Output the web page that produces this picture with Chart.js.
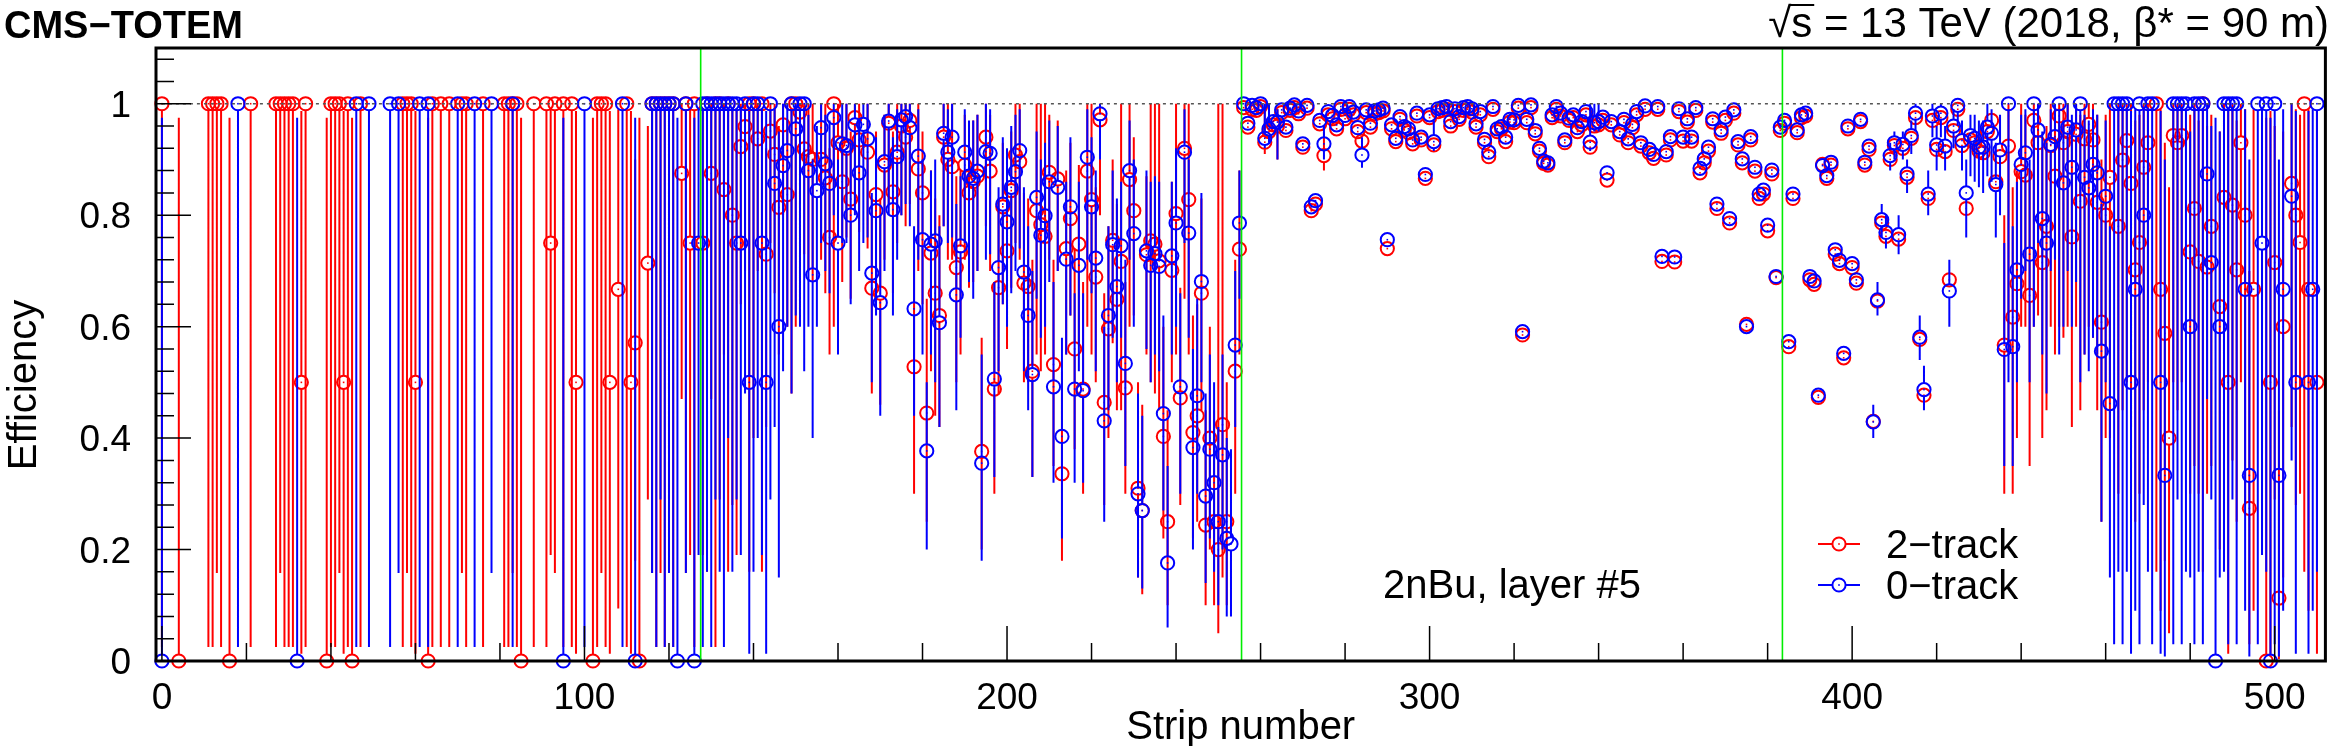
<!DOCTYPE html>
<html>
<head>
<meta charset="utf-8">
<script src="https://cdn.jsdelivr.net/npm/chart.js@4.4.1/dist/chart.umd.min.js"></script>
<style>
  html, body { margin: 0; padding: 0; background: #fff; }
  #wrap { width: 2334px; height: 746px; }
</style>
</head>
<body>
<div id="wrap"><canvas id="effChart" width="2334" height="746"></canvas></div>
<script>
// [strip, efficiency, lower end of error bar, upper end of error bar]
// points without the last two entries have error bars hidden inside the marker
const redChip1 = [
  [0,1,.025,1],[4,0,0,.975],[11,1,.025,1],[12,1,.025,1],[13,1,.158,1],[14,1,.025,1],[16,0,0,.975],[21,1,.025,1],
  [27,1,.025,1],[28,1,.158,1],[29,1,.025,1],[30,1,.025,1],[31,1,.025,1],[33,.5,.013,.987],[34,1,.025,1],[39,0,0,.975],
  [40,1,.025,1],[41,1,.025,1],[42,1,.158,1],[43,.5,.013,.987],[44,1,.025,1],[45,0,0,.975],[47,1,.025,1],[57,1,.025,1],
  [58,1,.158,1],[59,1,.025,1],[60,.5,.013,.987],[63,0,0,.975],[64,1,.025,1],[66,1,.025,1],[68,1,.025,1],[71,1,.158,1],
  [72,1,.025,1],[76,1,.025,1],[81,1,.025,1],[82,1,.025,1],[83,1,.158,1],[84,1,.025,1],[85,0,0,.975],[88,1,.025,1],
  [91,1,.025,1],[92,.75,.19,.99],[93,1,.158,1],[95,1,.025,1],[97,1,.025,1],[98,.5,.013,.987],[102,0,0,.975],[103,1,.025,1],
  [104,1,.158,1],[105,1,.025,1],[106,.5,.013,.987],[108,.667,.094,.99],[110,1,.025,1],[111,.5,.013,.987],[112,.571,.18,.9],
  [113,0,0,.975],[115,.714,.29,.96],[116,1,.158,1],[117,1,.025,1],[118,1,.158,1],[119,1,.025,1],[120,1,.29,1],[121,1,.025,1],
  [123,.875,.47,1],[124,1,.158,1],[125,.75,.19,.99],[126,1,.025,1]
];
const blueChip1 = [
  [0,0,0,.975],[18,1,.025,1],[32,0,0,.975],[46,1,.025,1],[49,1,.025,1],[54,1,.025,1],[56,1,.158,1],[61,1,.025,1],
  [63,1,.025,1],[70,1,.025,1],[74,1,.025,1],[78,1,.158,1],[83,1,.025,1],[95,0,0,.975],[100,1,.025,1],[109,1,.025,1],
  [112,0,0,.975],[116,1,.158,1],[117,1,.025,1],[118,1,.29,1],[119,1,.025,1],[120,1,.158,1],[121,1,.025,1],[122,0,0,.975],
  [124,1,.158,1],[126,0,0,.975],[127,.75,.19,.99]
];
const redChip2 = [
  [128,.75,.19,.99],[129,1,.16,1],[130,.875,.47,1],[131,1,.025,1],[132,1,.29,1],[133,.846,.55,1],[134,1,.16,1],[135,.8,.28,.99],
  [136,.75,.19,.99],[137,.923,.64,1],[138,.959,.7,1],[139,1,.16,1],[140,1,.4,1],[141,.937,.7,1],[142,1,.16,1],[143,.73,.42,.92],
  [144,.951,.75,1],[145,.909,.66,1],[146,.814,.55,.96],[147,.962,.8,1],[148,.837,.6,.97],[149,1,.48,1],[150,1,.6,1],[151,.985,.82,1],
  [152,.919,.73,1],[153,.905,.7,1],[154,.9,.68,1],[156,.9,.72,1],[157,.867,.66,1],[158,.76,.55,.92],[159,1,.6,1],[160,.93,.76,1],
  [161,.86,.68,.97],[162,.92,.76,1],[163,.829,.65,.95],[164,.975,.82,1],[165,.935,.77,1],[167,.913,.74,1],[168,.669,.48,.83],[169,.837,.66,.95],
  [170,.66,.46,.83],[171,.89,.72,.98],[172,.965,.82,1],[173,.842,.66,.95],[174,.913,.75,1],[175,.96,.8,1],[176,.94,.78,1],[177,.97,.82,1],
  [178,.528,.3,.72],[179,.883,.7,1],[180,.84,.64,.95],[181,.445,.25,.65],[182,.732,.52,.88],[183,.66,.44,.83],[184,.62,.42,.8],[185,.94,.78,1],
  [186,.9,.72,1],[187,.887,.72,1],[188,.706,.5,.87],[189,.734,.55,.88],[190,.89,.72,.98],[191,.84,.67,.95],[192,.86,.68,.97],[193,.87,.7,.98],
  [194,.376,.2,.58],[195,.94,.78,1],[196,.879,.7,.98],[197,.488,.3,.68],[198,.67,.48,.83],[199,.815,.64,.93],[200,.736,.56,.88],[201,.844,.67,.95],
  [202,.908,.75,1],[203,.896,.72,1],[204,.678,.5,.84],[205,.672,.5,.83],[206,.52,.33,.72],[207,.808,.55,1],[208,.783,.52,1],[209,.762,.55,1],
  [210,.877,.72,.98],[211,.532,.35,.72],[212,.865,.7,.97],[213,.336,.18,.52],[214,.74,.55,.88],[215,.794,.62,.93],[216,.56,.38,.74],[217,.748,.57,.89],
  [218,.488,.3,.68],[219,.879,.6,1],[220,.828,.55,1],[221,.689,.5,.85],[222,.971,.8,1],[223,.464,.28,.66],[224,.596,.4,.78],[225,.755,.57,.9],
  [226,.649,.45,.82],[227,.717,.45,1],[228,.49,.3,.68],[229,.864,.6,1],[230,.808,.62,.94],[231,.31,.15,.5],[232,.27,.12,.46],[233,.729,.55,.87],
  [234,.754,.5,1],[235,.748,.48,1],[236,.718,.45,1],[237,.403,.22,.6],[238,.25,.1,.45],[239,.701,.5,.86],[240,.803,.55,1],[241,.472,.28,.67],
  [242,.92,.65,1],[243,.828,.55,1],[244,.41,.22,.62],[245,.44,.25,.64],[246,.66,.45,.83],[247,.244,.1,.45],[248,.4,.2,.6],[249,.25,.1,.45],
  [250,.2,.05,1],[251,.424,.15,1],[252,.25,.1,.5],[254,.52,.3,.72],[255,.739,.55,.88]
];
const blueChip2 = [
  [128,1,.025,1],[129,1,.16,1],[130,1,.025,1],[131,1,.29,1],[132,1,.16,1],[133,1,.025,1],[134,1,.4,1],[135,1,.16,1],
  [136,1,.29,1],[137,.75,.19,.99],[138,1,.48,1],[139,.5,.013,.987],[140,1,.16,1],[141,1,.4,1],[142,.75,.19,.99],[143,.5,.013,.987],
  [144,1,.29,1],[145,.857,.42,.99],[146,.6,.15,.95],[147,.889,.52,1],[148,.916,.6,1],[149,1,.48,1],[150,.955,.62,1],[151,1,.6,1],
  [152,1,.52,1],[153,.88,.6,.98],[154,.693,.4,.9],[155,.844,.6,.96],[156,.957,.75,1],[157,.892,.7,.98],[158,.857,.66,.97],[159,.975,.8,1],
  [160,.75,.55,.9],[161,.928,.75,1],[162,.925,.75,1],[163,.8,.64,.93],[164,.962,.8,1],[165,.876,.7,.97],[166,.963,.75,1],[167,.937,.76,1],
  [168,.696,.5,.84],[169,.808,.62,.94],[170,.643,.44,.8],[171,.896,.7,.98],[172,.969,.8,1],[173,.81,.62,.94],[174,.905,.72,.99],[175,.971,.8,1],
  [176,.977,.82,1],[177,.957,.78,1],[178,.632,.44,.78],[179,.906,.72,.99],[180,.756,.55,.9],[181,.377,.2,.5],[182,.748,.55,.88],[183,.754,.5,.9],
  [184,.607,.42,.78],[185,.947,.78,1],[186,.913,.75,.99],[187,.94,.76,1],[188,.657,.45,.82],[189,.745,.58,.87],[190,.913,.75,.99],[191,.87,.68,.97],
  [192,.866,.65,.97],[193,.879,.7,.98],[194,.355,.18,.55],[195,.914,.72,1],[196,.911,.73,.99],[197,.506,.33,.68],[198,.706,.52,.85],[199,.82,.64,.94],
  [200,.788,.6,.92],[201,.85,.66,.96],[202,.878,.7,.98],[203,.916,.74,.99],[204,.698,.52,.85],[205,.62,.45,.78],[206,.514,.33,.7],[207,.832,.65,.95],
  [208,.764,.58,.9],[209,.799,.6,.93],[210,.86,.68,.97],[211,.492,.32,.68],[212,.85,.7,.96],[213,.403,.22,.58],[214,.721,.55,.86],[215,.815,.62,.94],
  [216,.488,.32,.66],[217,.71,.52,.86],[218,.485,.32,.66],[219,.904,.72,.99],[220,.815,.66,.94],[221,.723,.52,.88],[222,.982,.9,1],[223,.431,.25,.6],
  [224,.62,.45,.78],[225,.747,.58,.88],[226,.672,.5,.83],[227,.745,.58,.86],[228,.534,.35,.72],[229,.88,.72,.97],[230,.767,.6,.9],[231,.3,.15,.48],
  [232,.27,.13,.44],[233,.736,.56,.88],[234,.71,.5,.86],[235,.731,.55,.87],[236,.708,.52,.86],[237,.444,.27,.62],[238,.176,.06,.35],[239,.727,.55,.86],
  [240,.786,.6,.92],[241,.492,.3,.66],[242,.913,.75,.99],[243,.768,.58,.9],[244,.383,.2,.56],[245,.476,.3,.65],[246,.681,.5,.84],[247,.296,.14,.48],
  [248,.38,.22,.55],[249,.32,.16,.5],[250,.25,.1,.42],[251,.37,.2,.55],[252,.22,.08,.4],[253,.21,.08,.38],[254,.567,.42,.7],[255,.786,.65,.88]
];
const redChip3 = [
  [256,.993],[257,.958],[258,.99],[259,.988],[260,.995],[261,.931,.91,1],[262,.95,.93,1],[263,.962],[264,.96,.9,.99],[265,.984],[266,.952],
  [267,.988],[268,.993],[269,.982],[270,.922],[271,.992],[272,.808],[273,.82],[274,.964],[275,.907,.88,.95],[276,.98],[277,.973],[278,.955],
  [279,.99],[280,.973],[281,.99],[282,.98],[283,.95],[284,.933],[285,.984],[286,.958],[287,.982],[288,.984],[289,.987],[290,.74],[291,.955],
  [292,.932],[293,.972],[294,.953],[295,.948],[296,.928],[297,.978],[298,.935],[299,.866],[300,.975],[301,.926],[302,.986],[303,.988],[304,.99],
  [305,.96],[306,.986],[307,.972],[308,.988],[309,.99],[310,.985],[311,.958],[312,.98],[313,.93],[314,.905],[315,.99],[316,.95],[317,.955],
  [318,.932],[319,.967],[320,.966],[321,.992],[322,.585],[323,.966],[324,.993],[325,.946],[326,.915],[327,.893],[328,.89],[329,.975],[330,.99],
  [331,.978],[332,.93],[333,.97],[334,.975],[335,.95],[336,.962],[337,.98],[338,.922],[339,.96],[340,.962],[341,.97],[342,.863],[343,.962],
  [345,.944],[346,.966],[347,.93],[348,.957],[349,.98],[350,.924],[351,.99],[352,.912],[353,.902],[354,.99],[355,.717],[356,.908],[357,.935],
  [358,.716],[359,.986],[360,.933],[361,.967],[362,.933],[363,.988],[364,.876],[365,.894],[366,.915],[367,.967],[368,.812],[369,.947],[370,.97],
  [371,.786],[372,.983],[373,.926],[374,.894],[375,.604],[376,.935],[377,.879],[378,.83],[379,.838],[380,.772],[381,.874],[382,.688],[383,.952]
];
const blueChip3 = [
  [256,1],[257,.965],[258,.997],[259,.993],[260,1],[261,.938,.92,1],[262,.955,.93,1],[263,.968],[264,.967,.9,.99],[265,.989],[266,.958],
  [267,.992],[268,.998],[269,.987],[270,.928],[271,.997],[272,.815],[273,.826],[274,.97],[275,.928,.9,.96],[276,.986],[277,.979],[278,.962],
  [279,.995],[280,.979],[281,.995],[282,.985],[283,.957],[284,.908,.885,.94],[285,.989],[286,.965],[287,.987],[288,.989],[289,.992],[290,.756],[291,.962],
  [292,.938],[293,.977],[294,.959],[295,.955],[296,.935],[297,.983],[298,.94],[299,.873],[300,.98],[301,.932,.915,.97],[302,.991],[303,.993],[304,.995],
  [305,.968],[306,.991],[307,.977],[308,.993],[309,.995],[310,.991],[311,.964],[312,.986],[313,.936],[314,.913],[315,.995],[316,.955],[317,.959],
  [318,.94],[319,.972],[320,.971],[321,.997],[322,.591],[323,.972],[324,.998],[325,.952],[326,.92],[327,.897],[328,.894],[329,.98],[330,.995],
  [331,.983],[332,.935],[333,.974],[334,.98],[335,.957],[336,.968],[337,.986],[338,.931,.915,1],[339,.966,.95,1],[340,.968,.95,1],[341,.976],[342,.876],[343,.968],
  [345,.95],[346,.972],[347,.937],[348,.963],[349,.986],[350,.93],[351,.996],[352,.918],[353,.909],[354,.995],[355,.726],[356,.914],[357,.941],
  [358,.725],[359,.991],[360,.94],[361,.973],[362,.94],[363,.993],[364,.884],[365,.901],[366,.922],[367,.973],[368,.82],[369,.953],[370,.976],
  [371,.794],[372,.989],[373,.932],[374,.901],[375,.6],[376,.941],[377,.886],[378,.838],[379,.845],[380,.782],[381,.881],[382,.69],[383,.958]
];
const redChip4 = [
  [384,.965],[385,.564],[386,.83],[387,.948],[388,.975],[389,.978],[390,.684],[391,.676],[392,.473],[393,.891],[394,.866],[395,.89],
  [396,.73],[397,.713],[398,.544],[399,.955],[400,.706],[401,.678],[402,.968],[403,.89],[404,.918],[405,.43],[406,.646],[407,.786],
  [408,.762],[409,.9],[410,.925],[411,.757],[412,.92],[413,.868],[414,.938],[415,.975],[416,.577],[417,.477],[418,.83],[419,.97],
  [420,.918],[421,.975],[422,.914],[423,.684],[424,.952],[425,.99],[426,.925],[427,.812],[428,.935],[429,.93],[430,.915],[431,.912],
  [432,.95],[433,.97],[434,.86],[435,.905],[436,.567,.3,.8],[437,.924,.55,1],[438,.617,.3,.85],[439,.677,.4,.88],[440,.878,.6,1],[441,.872,.6,.98],
  [442,.656,.35,.88],[443,.97,.6,1],[444,.93,.62,1],[445,.715,.4,.92],[446,.78,.45,.96],[447,.925,.6,1],[448,.87,.55,.99],[449,.978,.6,1],
  [450,.93,.58,1],[451,.95,.6,1],[452,.761,.42,.95],[453,.945,.6,1],[454,.825,.45,.98],[455,.937,.55,1],[456,.963,.6,1],[457,.935,.58,1],
  [458,.823,.45,.98],[459,.608,.25,.9],[460,.8,.4,.98],[461,.868,.4,1],[463,.78,.3,1],[464,.899,.45,1],[465,.934,.5,1],[466,.857,.42,1],
  [467,.702,.25,.97],[468,.751,.3,.98],[469,.886,.45,1],[470,.93,.5,1],[472,1,.16,1],[473,.667,.09,.99],[474,.588,.18,.93],[475,.4,.05,.85],
  [476,.943,.5,1],[477,.93,.45,1],[478,.943,.5,1],[480,.734,.3,.98],[481,.812,.35,1],[482,.717,.3,.97],[483,1,.16,1],[484,.707,.3,.96],
  [485,.78,.35,.98],[487,.636,.2,.95],[488,.832,.38,1],[489,.5,.013,.987],[490,.818,.36,1],[491,.702,.25,.97],[492,.93,.5,1],[493,.8,.28,.99],
  [494,.274,.03,.7],[495,.667,.09,.99],[498,0,0,.975],[499,.5,.013,.987],[500,.715,.29,.96],[501,.113,.003,.45],[502,.6,.15,.95],[504,.857,.42,1],
  [505,.8,.28,.99],[506,.751,.3,.98],[507,1,.16,1],[508,.667,.09,.99],[510,.5,.013,.987]
];
const blueChip4 = [
  [384,.97],[385,.573],[386,.838],[387,.953],[388,.98],[389,.983],[390,.69],[391,.682],[392,.477],[393,.889],[394,.871],[395,.895],
  [396,.738],[397,.719],[398,.552],[399,.96],[400,.713],[401,.684],[402,.972],[403,.895],[404,.924],[405,.429,.4,.46],[406,.648,.62,.68],[407,.792,.76,.82],
  [408,.769,.74,.8],[409,.907,.88,.93],[410,.93,.9,.95],[411,.765,.73,.8],[412,.927,.9,.95],[413,.874,.84,.9],[414,.943,.91,.97],[415,.983,.95,1],
  [416,.581,.54,.62],[417,.487,.45,.53],[418,.838,.8,.88],[419,.978,.94,1],[420,.926,.88,.96],[421,.983,.94,1],[422,.924,.88,.96],[423,.664,.6,.72],
  [424,.96,.92,.99],[425,.997,.96,1],[426,.934,.88,.97],[427,.84,.76,.9],[428,.943,.87,.98],[429,.938,.86,.98],[430,.922,.85,.97],[431,.922,.84,.97],
  [432,.958,.87,1],[433,.947,.86,.99],[434,.855,.76,.93],[435,.917,.8,.98],[436,.559,.35,.75],[437,1,.5,1],[438,.564,.35,.78],[439,.702,.5,.86],
  [440,.891,.65,.98],[441,.912,.7,.99],[442,.73,.5,.9],[443,1,.6,1],[444,.953,.75,1],[445,.794,.55,.95],[446,.75,.48,.93],[447,.927,.7,.99],
  [448,.941,.72,1],[449,1,.55,1],[450,.858,.6,.97],[451,.958,.7,1],[452,.886,.6,.98],[453,.953,.68,1],[454,1,.5,1],[455,.868,.55,.98],
  [456,.849,.52,.97],[457,.891,.58,.99],[458,.876,.55,.98],[459,.556,.25,.82],[460,.834,.5,.97],[461,.462,.15,.78],[462,1,.03,1],[463,1,.16,1],
  [464,1,.03,1],[465,1,.16,1],[466,.5,.013,.987],[467,.667,.09,.99],[468,1,.03,1],[469,.8,.28,.99],[470,1,.16,1],[471,1,.03,1],
  [473,.5,.013,.987],[474,.333,.008,.9],[476,1,.03,1],[477,1,.29,1],[478,1,.03,1],[479,1,.16,1],[480,.6,.15,.95],[481,1,.03,1],
  [482,1,.16,1],[483,1,.03,1],[484,.874,.47,1],[485,.715,.29,.96],[486,0,0,.975],[487,.6,.15,.95],[488,1,.16,1],[489,1,.03,1],
  [490,1,.29,1],[491,1,.03,1],[493,.667,.09,.99],[494,.333,.008,.9],[496,1,.03,1],[497,.75,.19,.99],[498,1,.16,1],[499,0,0,.975],
  [500,1,.03,1],[501,.333,.008,.9],[502,.667,.09,.99],[504,.834,.36,1],[505,.5,.013,.987],[508,.5,.013,.987],[509,.667,.09,.99],[510,1,.16,1]
];

const xMajorTicks = [0, 100, 200, 300, 400, 500];
const yMajorTicks = [0, 0.2, 0.4, 0.6, 0.8, 1];
const chipEdges = [127.5, 255.5, 383.5];
const legendItems = [
  { label: '2\u2212track', color: '#ff0000' },
  { label: '0\u2212track', color: '#0000ff' }
];
const headerLeft = 'CMS\u2212TOTEM';
const headerRight = 's = 13 TeV (2018, \u03b2* = 90 m)';
const planeLabel = '2nBu, layer #5';

const FONT = '"Liberation Sans", Arial, Helvetica, sans-serif';
const MARK_R = 6.6;
const LINE_W = 2;

const toPts = arr => arr.map(p => ({ x: p[0], y: p[1], lo: p[2], hi: p[3] }));

function drawErrors(chart, index) {
  const ds = chart.data.datasets[index];
  const meta = chart.getDatasetMeta(index);
  const ys = chart.scales.y;
  const c = chart.ctx;
  c.save();
  c.strokeStyle = ds.borderColor;
  c.lineWidth = LINE_W;
  c.beginPath();
  meta.data.forEach((el, i) => {
    const d = ds.data[i];
    if (d.lo == null) return;
    const yHi = ys.getPixelForValue(d.hi);
    const yLo = ys.getPixelForValue(d.lo);
    if (el.y - MARK_R > yHi + 0.5) { c.moveTo(el.x, el.y - MARK_R); c.lineTo(el.x, yHi); }
    if (el.y + MARK_R < yLo - 0.5) { c.moveTo(el.x, el.y + MARK_R); c.lineTo(el.x, yLo); }
  });
  c.stroke();
  c.restore();
}

const rootLook = {
  id: 'rootLook',
  beforeDatasetDraw(chart, args) {
    drawErrors(chart, args.index);
  },
  afterDatasetDraw(chart, args) {
    const ds = chart.data.datasets[args.index];
    const c = chart.ctx;
    c.save();
    c.fillStyle = ds.borderColor;
    args.meta.data.forEach(el => c.fillRect(el.x - 0.8, el.y - 0.8, 1.6, 1.6));
    c.restore();
  },
  afterDatasetsDraw(chart) {
    const c = chart.ctx;
    const a = chart.chartArea;
    const xs = chart.scales.x, ys = chart.scales.y;
    c.save();

    // dotted line at efficiency 1
    c.strokeStyle = '#555';
    c.lineWidth = 1.5;
    c.setLineDash([3, 4]);
    c.beginPath();
    c.moveTo(xs.getPixelForValue(0), ys.getPixelForValue(1));
    c.lineTo(a.right, ys.getPixelForValue(1));
    c.stroke();
    c.setLineDash([]);

    // chip boundaries
    c.strokeStyle = '#00ee00';
    c.lineWidth = 1.6;
    chipEdges.forEach(e => {
      const x = xs.getPixelForValue(e);
      c.beginPath(); c.moveTo(x, a.top); c.lineTo(x, a.bottom); c.stroke();
    });

    // frame
    c.strokeStyle = '#000';
    c.lineWidth = 3;
    c.strokeRect(a.left, a.top, a.right - a.left, a.bottom - a.top);

    // ticks, drawn inside the frame
    c.lineWidth = 1.5;
    c.beginPath();
    for (let v = 0; v <= 1.1001; v += 0.04) {
      const y = ys.getPixelForValue(v);
      const major = Math.abs(v / 0.2 - Math.round(v / 0.2)) < 1e-6;
      c.moveTo(a.left, y); c.lineTo(a.left + (major ? 35 : 18), y);
    }
    for (let v = 0; v <= 511; v += 20) {
      const x = xs.getPixelForValue(v);
      const major = v % 100 === 0;
      c.moveTo(x, a.bottom); c.lineTo(x, a.bottom - (major ? 35 : 18));
    }
    c.stroke();

    // tick labels
    c.fillStyle = '#000';
    c.font = '37px ' + FONT;
    c.textBaseline = 'alphabetic';
    c.textAlign = 'right';
    yMajorTicks.forEach(v => {
      c.fillText(String(v), a.left - 25, ys.getPixelForValue(v) + 13);
    });
    c.textAlign = 'center';
    xMajorTicks.forEach(v => {
      c.fillText(String(v), xs.getPixelForValue(v), 709);
    });

    // axis titles
    c.font = '40px ' + FONT;
    c.fillText('Strip number', (a.left + a.right) / 2, 739);
    c.save();
    c.translate(36, 385);
    c.rotate(-Math.PI / 2);
    c.fillText('Efficiency', 0, 0);
    c.restore();

    // headers
    c.textAlign = 'left';
    c.font = 'bold 38px ' + FONT;
    c.fillText(headerLeft, 4, 38);
    c.font = '42px ' + FONT;
    c.textAlign = 'right';
    c.fillText(headerRight, 2329, 37);
    const wRight = c.measureText(headerRight).width;
    const wS = c.measureText('s').width;
    c.fillText('\u221a', 2329 - wRight, 37);
    const sx = 2329 - wRight;
    c.lineWidth = 2;
    c.beginPath(); c.moveTo(sx - 2, 5); c.lineTo(sx + wS + 2, 5); c.stroke();

    // plane label
    c.font = '40px ' + FONT;
    c.textAlign = 'left';
    c.fillText(planeLabel, 1383, 598);

    // legend
    legendItems.forEach((it, k) => {
      const y = 544 + k * 41;
      c.strokeStyle = it.color;
      c.lineWidth = LINE_W;
      c.beginPath();
      c.moveTo(1818, y); c.lineTo(1839 - MARK_R, y);
      c.moveTo(1839 + MARK_R, y); c.lineTo(1860, y);
      c.stroke();
      c.beginPath(); c.arc(1839, y, MARK_R, 0, Math.PI * 2); c.stroke();
      c.fillStyle = it.color;
      c.fillRect(1839 - 0.8, y - 0.8, 1.6, 1.6);
      c.fillStyle = '#000';
      c.fillText(it.label, 1886, y + 14);
    });
    c.restore();
  }
};

const ctx = document.getElementById('effChart').getContext('2d');
const pointStyle = color => ({
  borderColor: color,
  backgroundColor: 'rgba(0,0,0,0)',
  pointBorderColor: color,
  pointBackgroundColor: 'rgba(0,0,0,0)',
  pointRadius: MARK_R,
  pointHoverRadius: MARK_R,
  pointBorderWidth: LINE_W,
  showLine: false,
  clip: false
});

new Chart(ctx, {
  type: 'scatter',
  data: {
    datasets: [
      Object.assign({ label: legendItems[1].label, order: 1,
        data: toPts([...blueChip1, ...blueChip2, ...blueChip3, ...blueChip4]) }, pointStyle('#0000ff')),
      Object.assign({ label: legendItems[0].label, order: 2,
        data: toPts([...redChip1, ...redChip2, ...redChip3, ...redChip4]) }, pointStyle('#ff0000'))
    ]
  },
  options: {
    responsive: false,
    animation: false,
    devicePixelRatio: 1,
    layout: { padding: { left: 156, right: 2, top: 48, bottom: 85 } },
    scales: {
      x: { type: 'linear', min: -1.4, max: 512, display: false },
      y: { type: 'linear', min: 0, max: 1.1, display: false }
    },
    plugins: { legend: { display: false }, tooltip: { enabled: false } },
    events: []
  },
  plugins: [rootLook]
});
</script>
</body>
</html>
